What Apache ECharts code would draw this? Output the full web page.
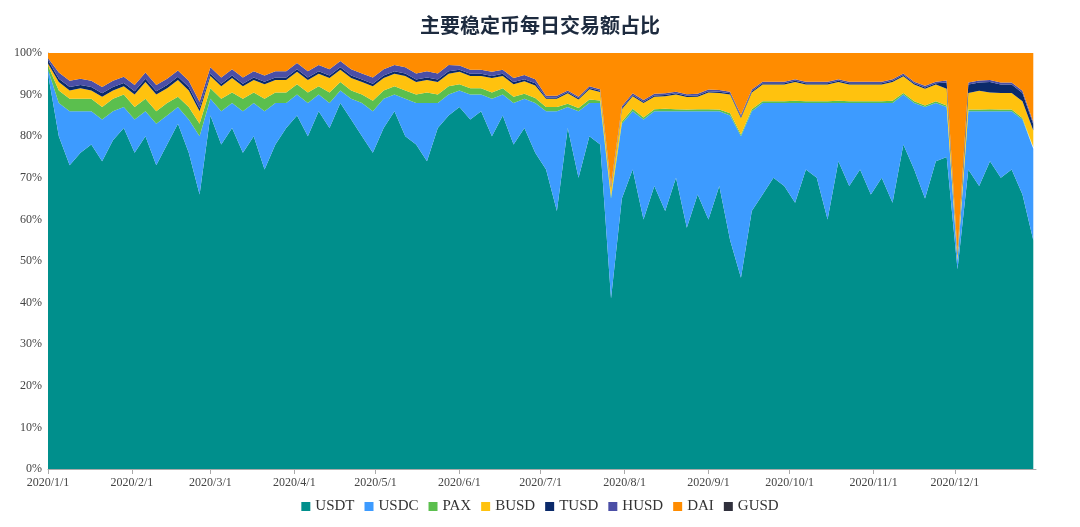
<!DOCTYPE html>
<html><head><meta charset="utf-8">
<script src="https://cdn.jsdelivr.net/npm/echarts@6/dist/echarts.min.js"></script>
<style>html,body{margin:0;padding:0;background:#fff}#c{width:1080px;height:527px}</style>
</head><body><div id="c"></div>
<script>
const seriesNames = ['USDT','USDC','PAX','BUSD','TUSD','HUSD','DAI','GUSD'];
const yTickLabels = ['0%','10%','20%','30%','40%','50%','60%','70%','80%','90%','100%'];
const USDT = [95,80,73,76,78,74,79,82, 76,80,73,78,83,76,66, 85,78,82,76,80,72,78,82, 85,80,86,82,88,84,80,76, 82,86,80,78,74,82,85, 87,84,86,80,85,78,82,76, 72,62,82,70,80,78,41, 65,72,60,68,62,70,58,66, 60,68,55,46,62,66,70, 68,64,72,70,60,74,68,72, 66,70,64,78,72,65,74, 75,48,72,68,74,70,72,66,55];
const USDC = [1,8,13,10,8,10,7,5, 8,6,10,7,4,8,14, 4,8,6,10,8,14,10,6, 5,8,4,6,3,5,8,10, 7,4,9,10,14,6,5, 4,6,4,9,5,10,7,12, 14,24,5,16,8,10,24, 18,14,24,18,24,16,28,20, 26,18,30,34,24,22,18, 20,24,16,18,28,14,20,16, 22,18,24,12,16,22,14, 12,2,14,18,12,16,14,18,22];
const PAX = [1,3,3,3,3,3,3,3, 3,3,3,3,2.5,3,3, 2.5,3,2.5,3,2.5,3,2.5,2.5, 2.5,2.5,2,2.5,2,2,2,2.5, 2,2,2,2,2.5,2,2, 1.5,1.5,1.5,1.5,1.5,1.5,1.2,1.2, 1,1,0.8,0.8,0.8,0.6,0.6, 0.5,0.6,0.5,0.5,0.6,0.5,0.4,0.5, 0.5,0.4,0.5,0.4,0.5,0.4,0.4, 0.4,0.5,0.4,0.4,0.4,0.5,0.4,0.4, 0.4,0.4,0.5,0.4,0.4,0.4,0.4, 0.4,0.3,0.4,0.4,0.5,0.4,0.4,0.4,0.4];
const BUSD = [0.5,2,2,2.5,2,2.5,2,2, 3,4,4,3.5,4,4,3, 3,3,3.5,3,3,3.5,3,3, 3,3,3,3.5,3,3,3,3.5, 3,3,3.5,3,3,3,3, 3,3,3,3.5,3,3,3,3, 2,2,2.5,2,2.5,2,2, 3,3,3.5,3,3,3.5,3,3, 4,4,4.5,4,4,4,4, 4,4.5,4,4,4,4.5,4,4, 4,4,4.5,4,4,4,4, 4,1,4,4.5,4,4,4,4,4];
const TUSD = [0.8,0.8,0.8,0.8,0.8,0.8,0.8,0.8, 0.8,0.8,0.8,0.8,0.8,0.8,0.8, 0.6,0.6,0.6,0.6,0.6,0.6,0.6,0.6, 0.6,0.6,0.6,0.6,0.6,0.6,0.6,0.6, 0.6,0.6,0.6,0.6,0.6,0.6,0.6, 0.5,0.5,0.5,0.5,0.5,0.5,0.5,0.5, 0.3,0.3,0.3,0.3,0.3,0.3,0.3, 0.3,0.3,0.3,0.3,0.3,0.3,0.3,0.3, 0.3,0.3,0.3,0.3,0.3,0.3,0.3, 0.3,0.3,0.3,0.3,0.3,0.3,0.3,0.3, 0.3,0.3,0.3,0.3,0.3,0.3,0.3, 1.5,0.5,2,2,2.5,2,2,2,1.5];
const HUSD = [0.5,1.5,1.5,1.5,1.5,1.5,1.5,1.5, 1.5,1.5,1.5,1.5,1.5,1.5,1.5, 1.5,1.5,1.5,1.5,1.5,1.5,1.5,1.5, 1.5,1.5,1.5,1.5,1.5,1.5,1.5,1.5, 1.5,1.5,1.5,1.5,1.5,1.5,1.5, 1,1,1,1,1,1,1,1, 0.4,0.4,0.4,0.4,0.4,0.4,0.4, 0.4,0.4,0.4,0.4,0.4,0.4,0.4,0.4, 0.4,0.4,0.4,0.4,0.4,0.4,0.4, 0.4,0.4,0.4,0.4,0.4,0.4,0.4,0.4, 0.4,0.4,0.4,0.4,0.4,0.4,0.4, 0.5,0.3,0.5,0.5,0.5,0.5,0.5,0.5,0.5];
const DAI = [3,6,8,8,8,10,8,7, 10,8,11,9,7,10,14, 5,8,6,8,6,8,6,6, 4,6,4,6,3,5,6,8, 5,4,5,6,6,6,4, 5,6,6,7,6,8,7,8, 13,13,12,13,11,11,34, 15,12,14,12,12,12,12,12, 12,12,13,18,12,10,10, 10,10,10,10,10,10,10,10, 9,9,9,7,9,10,9, 8,50,9,9,9,9,9,12,19];
const GUSD = USDT.map(() => 0.3);
const dates = USDT.map((_, i) => new Date(2020, 0, 1 + 4 * i).getTime());
const values = [USDT, USDC, PAX, BUSD, TUSD, HUSD, DAI, GUSD];
const colors = ['#008F8C','#3D9BFF','#5BBF4E','#FFC20E','#0B2A6A','#4B4FA6','#FF8C00','#30303C'];
const serif = 'Liberation Serif';
const chart = echarts.init(document.getElementById('c'));
chart.setOption({
  animation: false,
  color: colors,
  title: { text: '主要稳定币每日交易额占比', left: 'center', top: 10,
    textStyle: { fontFamily: 'Noto Sans CJK SC', fontSize: 20, fontWeight: 'bold', color: '#1d2b3f' } },
  legend: { bottom: 8, icon: 'rect', itemWidth: 9, itemHeight: 9, itemGap: 10,
    textStyle: { fontFamily: serif, fontSize: 15, color: '#333' }, data: seriesNames },
  grid: { left: 48, right: 44, top: 53, bottom: 58 },
  xAxis: { type: 'time', min: new Date(2020,0,1).getTime(), max: new Date(2020,11,31).getTime(),
    splitNumber: 12, boundaryGap: false,
    axisLine: { lineStyle: { color: '#aaa' } }, axisTick: { show: true, lineStyle: { color: '#aaa' } },
    splitLine: { show: false },
    axisLabel: { fontFamily: serif, fontSize: 12, color: '#444', hideOverlap: false,
      formatter: v => { const d = new Date(v); return d.getFullYear() + '/' + (d.getMonth()+1) + '/' + d.getDate(); } } },
  yAxis: { type: 'value', min: 0, max: 100, interval: 10,
    axisLine: { show: true, lineStyle: { color: '#aaa' } }, splitLine: { show: false },
    axisLabel: { fontFamily: serif, fontSize: 12, color: '#444', margin: 6,
      formatter: v => yTickLabels[Math.round(v / 10)] } },
  series: seriesNames.map((n, k) => ({
    name: n, type: 'line', stack: 'all', symbol: 'none', sampling: 'none',
    lineStyle: { width: 0 }, areaStyle: { color: colors[k], opacity: 1 },
    data: dates.map((d, i) => [d, values[k][i]])
  }))
});
</script></body></html>
